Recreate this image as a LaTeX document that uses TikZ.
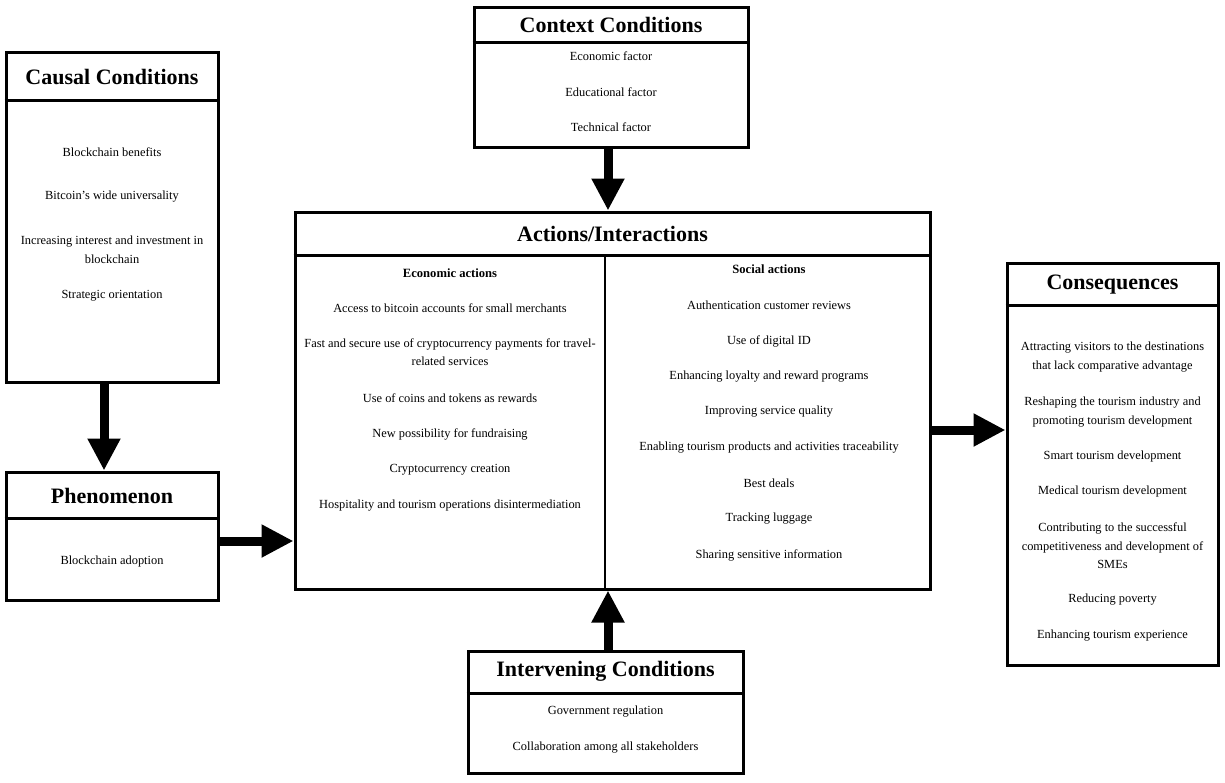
\documentclass[tikz,border=0pt]{standalone}
\usepackage{fontspec}
\setmainfont{Liberation Serif}
\usetikzlibrary{arrows.meta}

\begin{document}
\begin{tikzpicture}[x=1pt, y=-1pt,
  panel/.style={draw, line width=3pt, rectangle, inner sep=0pt, fill=white},
  rule/.style={line width=3pt},
  split/.style={line width=1.3pt},
  title/.style={font=\bfseries\fontsize{22}{26}\selectfont, inner sep=0pt},
  item/.style={font=\fontsize{12.4}{18.5}\selectfont, align=center, inner sep=0pt},
  subhead/.style={font=\bfseries\fontsize{12.6}{18.5}\selectfont, inner sep=0pt},
  flow/.style={line width=9pt, -{Triangle[width=31pt,length=32pt]}}
]
\useasboundingbox (0,0) rectangle (1225,782);

% ---------- boxes ----------
\node[panel, minimum width=212pt, minimum height=330pt] (causal) at (112,217) {};
\node[panel, minimum width=212pt, minimum height=128pt] (phen)   at (112,536) {};
\node[panel, minimum width=274pt, minimum height=140pt] (ctx)    at (611,77) {};
\node[panel, minimum width=635pt, minimum height=377pt] (act)    at (612.5,400.5) {};
\node[panel, minimum width=275pt, minimum height=122pt] (intv)   at (605.5,712) {};
\node[panel, minimum width=211pt, minimum height=402pt] (cons)   at (1112.5,464) {};

% header rules
\draw[rule] (causal.west |- 0,100) -- (causal.east |- 0,100);
\draw[rule] (phen.west |- 0,518)   -- (phen.east |- 0,518);
\draw[rule] (ctx.west |- 0,42)     -- (ctx.east |- 0,42);
\draw[rule] (act.west |- 0,255)    -- (act.east |- 0,255);
\draw[rule] (intv.west |- 0,693)   -- (intv.east |- 0,693);
\draw[rule] (cons.west |- 0,305)   -- (cons.east |- 0,305);
% column divider of the actions box
\draw[split] (605,255) -- (act.south -| 605,0);

% ---------- titles ----------
\node[title] (tcausal) at (112,77)    {Causal Conditions};
\node[title] (tphen)   at (112,496)   {Phenomenon};
\node[title] (tctx)    at (611,25)    {Context Conditions};
\node[title] (tact)    at (612.5,234) {Actions/Interactions};
\node[title] (tintv)   at (605.5,671) {Intervening Conditions};
\node[title] (tcons)   at (1112.5,285){Consequences};

% ---------- causal conditions ----------
\node[item] (c1) at (112,152) {Blockchain benefits};
\node[item] (c2) at (112,197) {Bitcoin's wide universality};
\node[item] (c3) at (112,250) {Increasing interest and investment in\\blockchain};
\node[item] (c4) at (112,296) {Strategic orientation};

% ---------- phenomenon ----------
\node[item] (p1) at (112,562) {Blockchain adoption};

% ---------- context conditions ----------
\node[item] (x1) at (611,56)  {Economic factor};
\node[item] (x2) at (611,92)  {Educational factor};
\node[item] (x3) at (611,127) {Technical factor};

% ---------- economic actions ----------
\node[subhead] (eh) at (450,273) {Economic actions};
\node[item] (e1) at (450,308) {Access to bitcoin accounts for small merchants};
\node[item] (e2) at (450,352) {Fast and secure use of cryptocurrency payments for travel-\\related services};
\node[item] (e3) at (450,398) {Use of coins and tokens as rewards};
\node[item] (e4) at (450,434) {New possibility for fundraising};
\node[item] (e5) at (450,470) {Cryptocurrency creation};
\node[item] (e6) at (450,506) {Hospitality and tourism operations disintermediation};

% ---------- social actions ----------
\node[subhead] (sh) at (769,269) {Social actions};
\node[item] (s1) at (769,305) {Authentication customer reviews};
\node[item] (s2) at (769,341) {Use of digital ID};
\node[item] (s3) at (769,377) {Enhancing loyalty and reward programs};
\node[item] (s4) at (769,412) {Improving service quality};
\node[item] (s5) at (769,448) {Enabling tourism products and activities traceability};
\node[item] (s6) at (769,483) {Best deals};
\node[item] (s7) at (769,519) {Tracking luggage};
\node[item] (s8) at (769,555) {Sharing sensitive information};

% ---------- intervening conditions ----------
\node[item] (i1) at (605.5,712) {Government regulation};
\node[item] (i2) at (605.5,748) {Collaboration among all stakeholders};

% ---------- consequences ----------
\node[item] (q1) at (1112.5,357) {Attracting visitors to the destinations\\that lack comparative advantage};
\node[item] (q2) at (1112.5,412) {Reshaping the tourism industry and\\promoting tourism development};
\node[item] (q3) at (1112.5,457) {Smart tourism development};
\node[item] (q4) at (1112.5,492) {Medical tourism development};
\node[item] (q5) at (1112.5,546) {Contributing to the successful\\competitiveness and development of\\SMEs};
\node[item] (q6) at (1112.5,600) {Reducing poverty};
\node[item] (q7) at (1112.5,636) {Enhancing tourism experience};

% ---------- connectors ----------
\coordinate (cp) at ([xshift=-8pt]causal.south);
\draw[flow] (cp) -- (cp |- phen.north);
\coordinate (pa) at ([yshift=-5pt]phen.east);
\draw[flow] (pa) -- (pa -| act.west);
\coordinate (xa) at ([xshift=-3pt]ctx.south);
\draw[flow] (xa) -- (xa |- act.north);
\coordinate (ia) at ([xshift=2.5pt]intv.north);
\draw[flow] (ia) -- (ia |- act.south);
\coordinate (aq) at (act.east |- 0,430);
\draw[flow] (aq) -- (aq -| cons.west);
\end{tikzpicture}
\end{document}
